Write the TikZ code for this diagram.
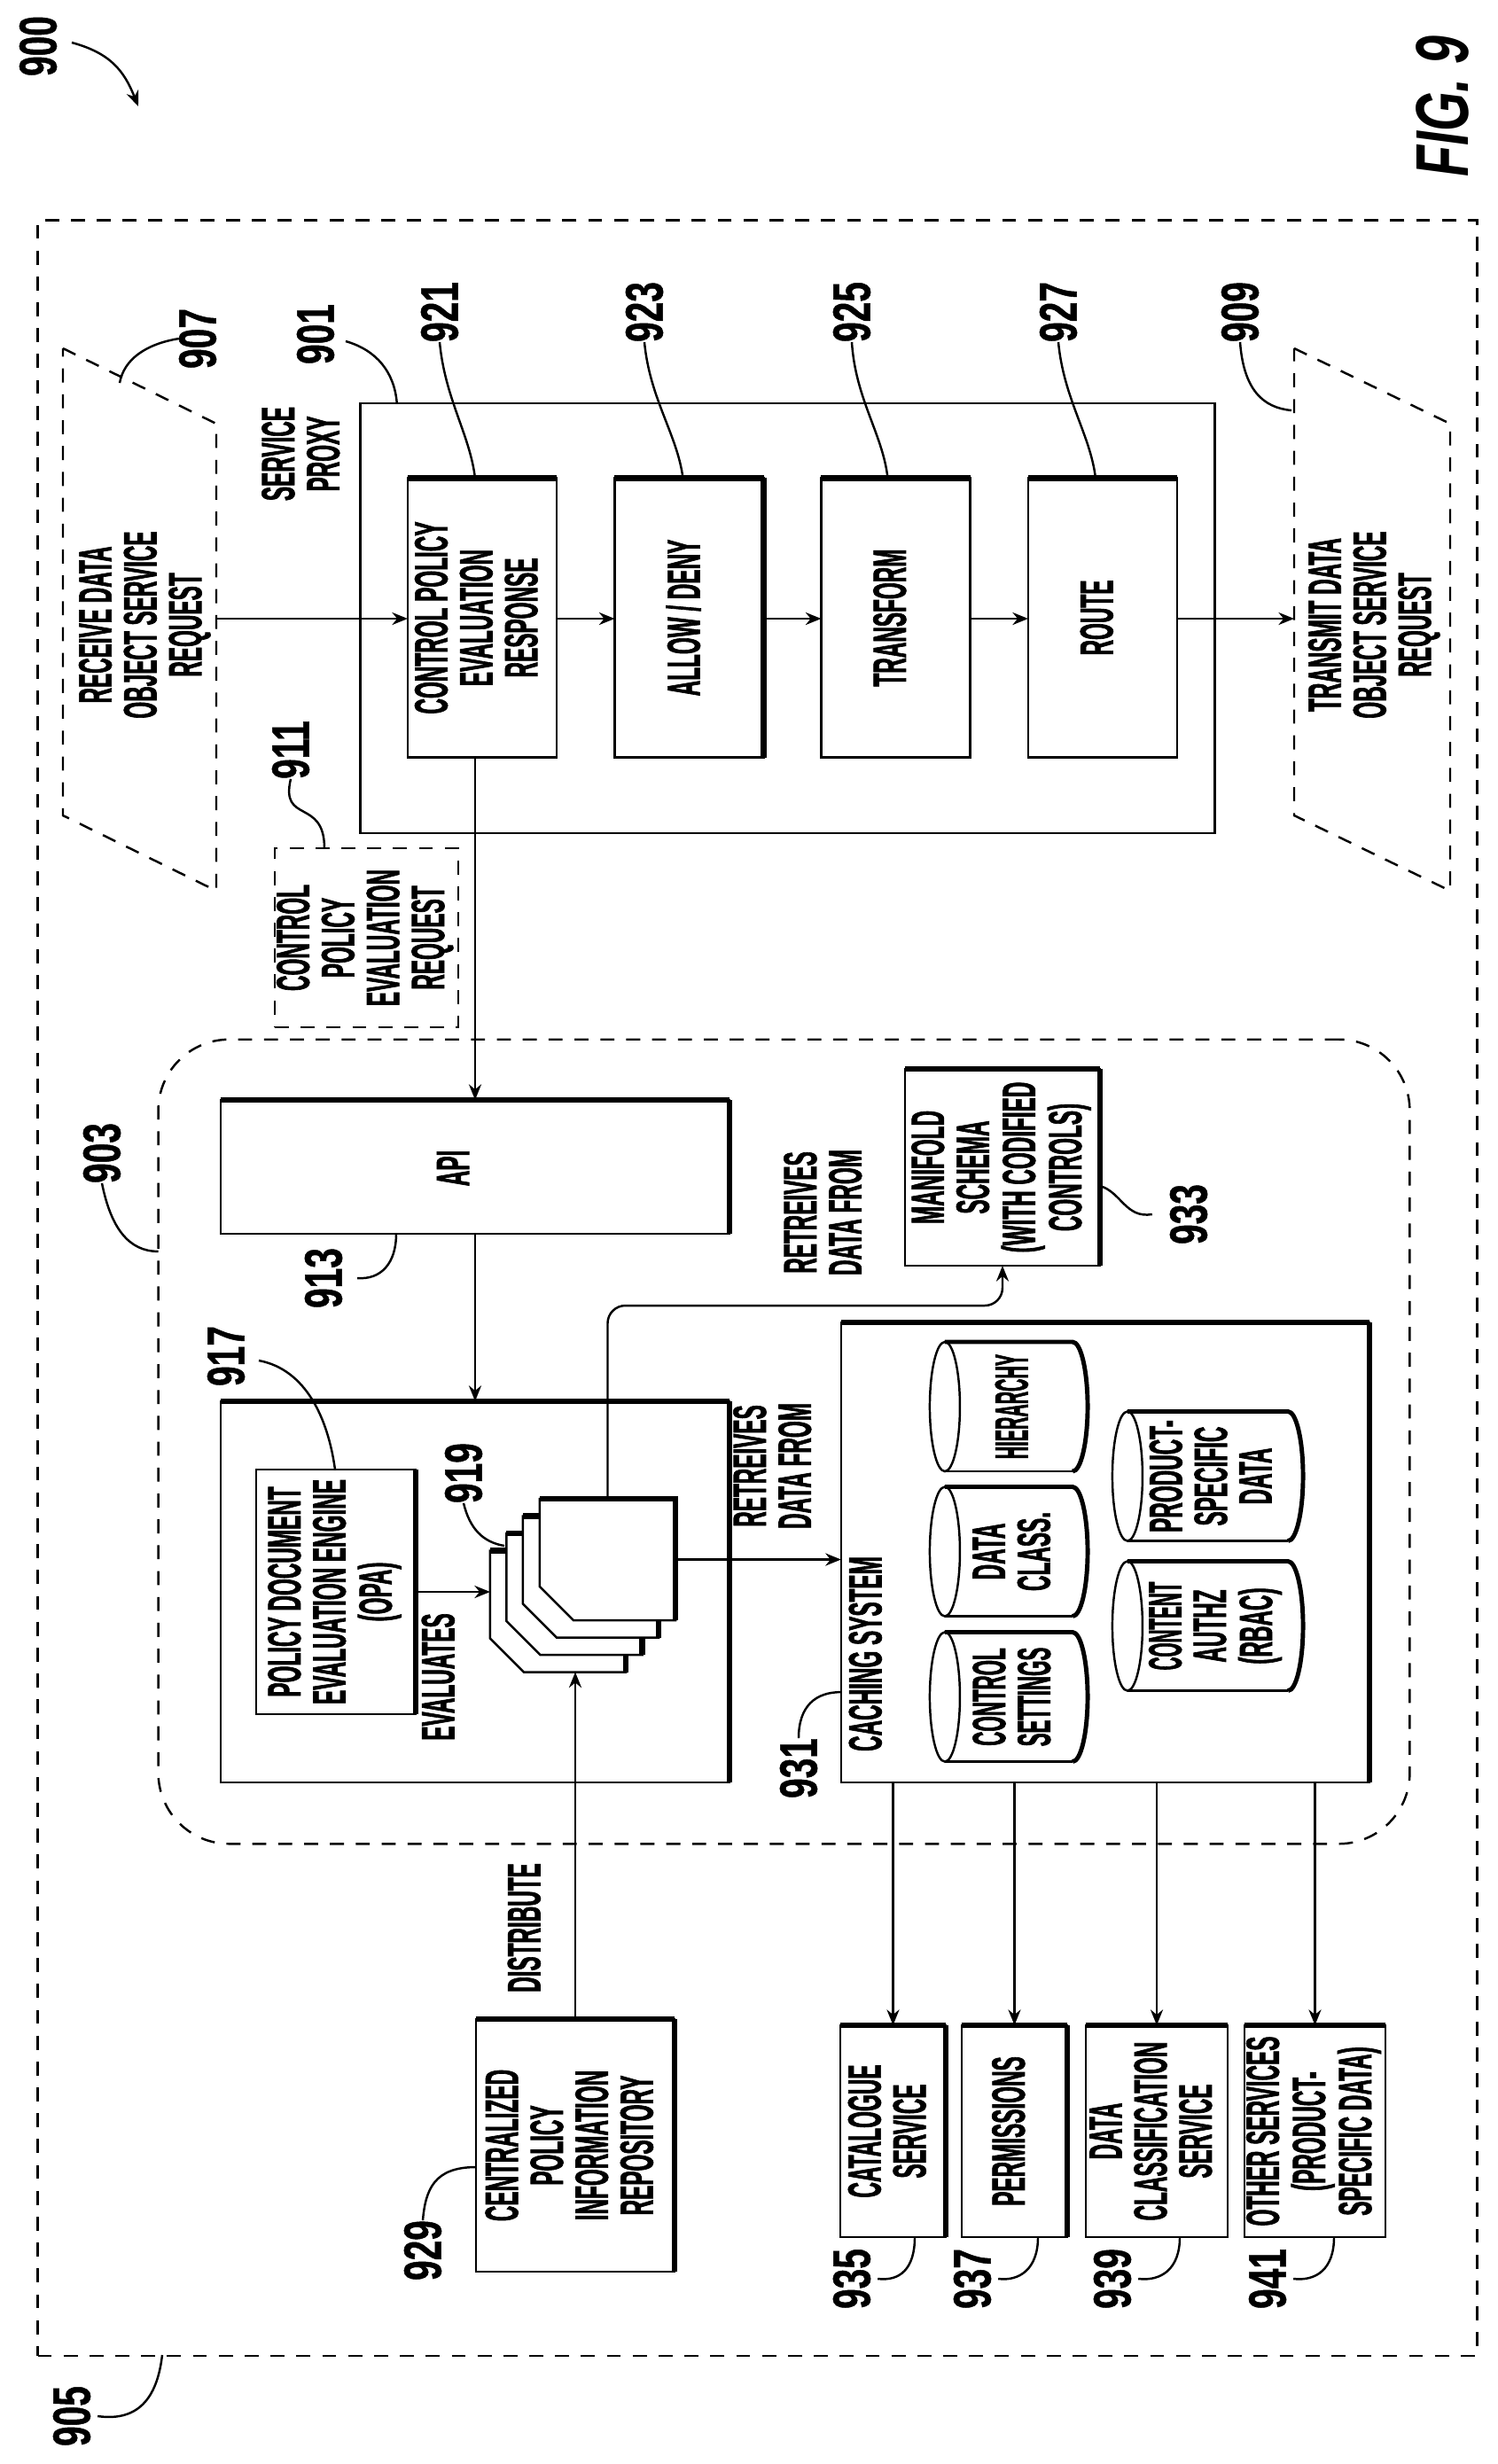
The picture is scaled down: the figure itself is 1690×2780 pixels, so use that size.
\documentclass[tikz,border=0pt]{standalone}
\usepackage{fontspec}
\setmainfont{Liberation Sans}[FakeStretch=0.46,BoldFeatures={FakeBold=1.2}]
\newfontfamily\numfont{Liberation Sans}[FakeStretch=0.68,BoldFeatures={FakeBold=0.8}]
\usetikzlibrary{arrows.meta}
\newcommand{\vt}[1]{\rotatebox{90}{\begin{tabular}{@{}c@{}}#1\end{tabular}}}
\newcommand{\dbt}[1]{\hspace{0.2cm}\vt{#1}}
\tikzstyle{box}=[draw,rectangle,inner sep=0pt,outer sep=0pt,line width=0.7pt,font=\fontsize{15}{13.2}\selectfont\bfseries]
\tikzstyle{pbox}=[box,minimum width=1.68cm,minimum height=3.15cm]
\tikzstyle{svc}=[box,minimum width=1.19cm,minimum height=2.39cm]
\tikzstyle{dashbox}=[box,dash pattern=on 4.5pt off 3.8pt]
\tikzstyle{lbl}=[inner sep=0pt,outer sep=0pt,font=\fontsize{15}{13.2}\selectfont\bfseries]
\tikzstyle{num}=[inner sep=0pt,outer sep=0pt,font=\fontsize{17}{17}\numfont\bfseries]
\tikzstyle{db}=[rectangle,inner sep=0pt,outer sep=0pt,minimum height=1.46cm,font=\fontsize{15}{13.2}\selectfont\bfseries]
\tikzstyle{sheet}=[rectangle,inner sep=0pt,outer sep=0pt,minimum width=1.53cm,minimum height=1.37cm]
\tikzstyle{heavy}=[line width=1.8pt]
\tikzstyle{lead}=[line width=0.7pt]
\begin{document}
\begin{tikzpicture}[x=0.01cm,y=-0.01cm,>={Stealth[length=5pt,width=4pt]},line width=0.7pt]
    \useasboundingbox (0,0) rectangle (1690,2780);

    % outer frames
    \node (n905box) at (854.5,1453) [dashbox,minimum width=16.23cm,minimum height=24.08cm] {};
    \node (n903box) at (884.5,1626.5) [dashbox,rounded corners=0.8cm,minimum width=14.11cm,minimum height=9.07cm] {};
    \node (proxy) at (888.5,697.5) [box,minimum width=9.63cm,minimum height=4.85cm] {};
    \node (proxytext) at (346,512) [lbl] {\vt{SERVICE\\PROXY}};

    % request shapes
    \draw [dash pattern=on 4.5pt off 3.8pt] (71,393) -- (244,478) -- (244,1005) -- (71,920) -- cycle;
    \draw [dash pattern=on 4.5pt off 3.8pt] (1460,393) -- (1636,478) -- (1636,1005) -- (1460,920) -- cycle;
    \coordinate (recvout) at (244,698);
    \coordinate (sendin) at (1460,698);
    \node (recv) at (165,705) [lbl] {\vt{RECEIVE DATA\\OBJECT SERVICE\\REQUEST}};
    \node (send) at (1552,705) [lbl] {\vt{TRANSMIT DATA\\OBJECT SERVICE\\REQUEST}};

    % proxy steps
    \node (box921) at (544,697) [pbox] {\vt{CONTROL POLICY\\EVALUATION\\RESPONSE}};
    \node (box923) at (777.5,697) [pbox] {\vt{ALLOW / DENY}};
    \node (box925) at (1010.5,697) [pbox] {\vt{TRANSFORM}};
    \node (box927) at (1244,697) [pbox] {\vt{ROUTE}};

    \node (box911) at (413.5,1058) [dashbox,minimum width=2.07cm,minimum height=2.02cm] {\vt{CONTROL\\POLICY\\EVALUATION\\REQUEST}};

    % policy service
    \node (api) at (536,1316.5) [box,minimum width=5.74cm,minimum height=1.51cm] {};
    \node (apitext) at (518,1318) [lbl] {\vt{API}};
    \node (engine) at (536,1796) [box,minimum width=5.74cm,minimum height=4.3cm] {};
    \node (pde) at (379,1796) [box,minimum width=1.8cm,minimum height=2.76cm] {\vt{POLICY DOCUMENT\\EVALUATION ENGINE\\(OPA)}};
    \node (evaltext) at (501,1892) [lbl] {\vt{EVALUATES}};

    % stack of documents, back to front
    \foreach \n/\x/\y in {doc3/629.5/1818,doc2/648/1798.5,doc1/666.5/1779,doc0/685.5/1759.5} {
        \node (\n) at (\x,\y) [sheet] {};
        \draw [fill=white] (\n.north west) -- (\n.north east) -- (\n.south east) -- ([xshift=0.38cm]\n.south west) -- ([yshift=0.38cm]\n.south west) -- cycle;
        \draw [heavy] (\n.north west) -- (\n.north east) -- (\n.south east);
    }

    \node (manifold) at (1131,1317) [box,minimum width=2.2cm,minimum height=2.22cm] {\vt{MANIFOLD\\SCHEMA\\(WITH CODIFIED\\CONTROLS)}};
    \node (fromtext1) at (935,1368) [lbl] {\vt{RETREIVES\\DATA FROM}};
    \node (fromtext2) at (878,1654) [lbl] {\vt{RETREIVES\\DATA FROM}};

    \node (cache) at (1247,1751.5) [box,minimum width=5.96cm,minimum height=5.19cm] {};
    \node (cachetext) at (983,1866) [lbl] {\vt{CACHING SYSTEM}};

    % stores
    \node (db1) at (1138,1587) [db,minimum width=1.78cm] {\dbt{\scalebox{0.82}[1]{HIERARCHY}}};
    \node (db2) at (1138,1750.5) [db,minimum width=1.78cm] {\dbt{DATA\\CLASS.}};
    \node (db3) at (1138,1914.5) [db,minimum width=1.78cm] {\dbt{\scalebox{0.92}[1]{CONTROL}\\\scalebox{0.92}[1]{SETTINGS}}};
    \node (db4) at (1362.5,1665.5) [db,minimum width=2.15cm] {\dbt{PRODUCT-\\SPECIFIC\\DATA}};
    \node (db5) at (1362.5,1834.5) [db,minimum width=2.15cm] {\dbt{\scalebox{0.85}[1]{CONTENT}\\AUTHZ\\(RBAC)}};
    \foreach \n in {db1,db2,db3,db4,db5} {
        \draw ([xshift=0.17cm]\n.west) ellipse [x radius=0.17cm,y radius=0.73cm];
        \draw ([xshift=0.17cm]\n.south west) -- ([xshift=-0.17cm]\n.south east);
        \draw [line width=1.4pt] ([xshift=0.17cm]\n.north west) -- ([xshift=-0.17cm]\n.north east) arc [start angle=90,end angle=-90,x radius=0.17cm,y radius=0.73cm];
    }

    % outside boxes
    \node (repo) at (649,2420.5) [box,minimum width=2.24cm,minimum height=2.85cm] {\vt{CENTRALIZED\\POLICY\\INFORMATION\\REPOSITORY}};
    \node (disttext) at (598,2175) [lbl] {\vt{DISTRIBUTE}};
    \node (svc935) at (1007.5,2404.5) [svc] {\vt{CATALOGUE\\SERVICE}};
    \node (svc937) at (1144.5,2404.5) [svc] {\vt{PERMISSIONS}};
    \node (svc939) at (1305,2404.5) [svc,minimum width=1.6cm] {\vt{DATA\\CLASSIFICATION\\SERVICE}};
    \node (svc941) at (1483.5,2404.5) [svc,minimum width=1.59cm] {\vt{OTHER SERVICES\\(PRODUCT-\\SPECIFIC DATA)}};

    % heavy edges
    \foreach \n in {box921,box923,box925,box927,api,engine,manifold,cache,repo,svc935,svc937,svc939,svc941}
        \draw [heavy] (\n.north west) -- (\n.north east);
    \foreach \n in {box923,api,engine,manifold,cache,repo,svc935,svc937,pde}
        \draw [heavy] (\n.north east) -- (\n.south east);

    % flow
    \draw [->] (recvout) -- (recvout -| box921.west);
    \draw [->] (box921.east |- recvout) -- (box923.west |- recvout);
    \draw [->] (box923.east |- recvout) -- (box925.west |- recvout);
    \draw [->] (box925.east |- recvout) -- (box927.west |- recvout);
    \draw [->] (box927.east |- recvout) -- (sendin);
    \draw [->] (box921.south -| api.north) -- (api.north);
    \draw [->] (api.south) -- (engine.north);
    \draw [->] (pde.east) -- (pde.east -| doc3.west);
    \draw [->] (repo.north) -- (repo.north |- doc3.south);
    \draw [->] (doc0.east) -- (doc0.east -| cache.west);
    \coordinate (bend) at (1131,1473);
    \draw [->,rounded corners=0.2cm] (doc0.north) |- (bend) -- (manifold.south);
    \draw [->] (cache.south -| svc935.north) -- (svc935.north);
    \draw [->] (cache.south -| svc937.north) -- (svc937.north);
    \draw [->] (cache.south -| svc939.north) -- (svc939.north);
    \draw [->] (cache.south -| svc941.north) -- (svc941.north);

    % reference numbers
    \node (n900) at (43,52) [num] {\rotatebox{90}{900}};
    \node (n905) at (81,2726) [num] {\rotatebox{90}{905}};
    \node (n907) at (223,382) [num] {\rotatebox{90}{907}};
    \node (n901) at (356,377) [num] {\rotatebox{90}{901}};
    \node (n921) at (496,352) [num] {\rotatebox{90}{921}};
    \node (n923) at (727,352) [num] {\rotatebox{90}{923}};
    \node (n925) at (961,352) [num] {\rotatebox{90}{925}};
    \node (n927) at (1194,352) [num] {\rotatebox{90}{927}};
    \node (n909) at (1399,352) [num] {\rotatebox{90}{909}};
    \node (n911) at (328,846) [num] {\rotatebox{90}{911}};
    \node (n903) at (115,1301) [num] {\rotatebox{90}{903}};
    \node (n913) at (365,1442) [num] {\rotatebox{90}{913}};
    \node (n917) at (255,1530) [num] {\rotatebox{90}{917}};
    \node (n919) at (523,1662) [num] {\rotatebox{90}{919}};
    \node (n933) at (1341,1370) [num] {\rotatebox{90}{933}};
    \node (n931) at (901,1995) [num] {\rotatebox{90}{931}};
    \node (n929) at (477,2539) [num] {\rotatebox{90}{929}};
    \node (n935) at (961,2571) [num] {\rotatebox{90}{935}};
    \node (n937) at (1097,2571) [num] {\rotatebox{90}{937}};
    \node (n939) at (1255,2571) [num] {\rotatebox{90}{939}};
    \node (n941) at (1430,2571) [num] {\rotatebox{90}{941}};
    \node (figlabel) at (1627,120) [num,font=\fontsize{24}{24}\numfont\bfseries\itshape] {\rotatebox{90}{FIG. 9}};

    % leader lines
    \draw [->] (81,48) .. controls (125,60) and (140,80) .. (156,120);
    \draw [lead] (n907.west) .. controls (165,388) and (140,405) .. (135,432);
    \draw [lead] (390,385) .. controls (425,395) and (445,420) .. ([xshift=0.41cm]proxy.north west);
    \draw [lead] (n921.south) .. controls (502,450) and (530,490) .. ([xshift=0.76cm]box921.north west);
    \draw [lead] (n923.south) .. controls (733,450) and (764,490) .. ([xshift=0.77cm]box923.north west);
    \draw [lead] (n925.south) .. controls (965,450) and (996,490) .. ([xshift=0.75cm]box925.north west);
    \draw [lead] (n927.south) .. controls (1200,450) and (1230,490) .. ([xshift=0.76cm]box927.north west);
    \draw [lead] (n909.south) .. controls (1403,440) and (1425,460) .. (1457,463);
    \draw [lead] (n911.south) .. controls (316,930) and (366,900) .. ([xshift=0.56cm]box911.north west);
    \draw [lead] (n903.south) .. controls (125,1385) and (145,1412) .. ([yshift=-2.39cm]n903box.north west);
    \draw [lead] ([xshift=1.98cm]api.south west) .. controls (447,1425) and (430,1444) .. ([xshift=0.17cm]n913.east);
    \draw [lead] (292,1535) .. controls (345,1545) and (370,1600) .. ([xshift=0.89cm]pde.north west);
    \draw [lead] (n919.south) .. controls (530,1725) and (545,1740) .. (569,1744);
    \draw [lead] ([yshift=-1.32cm]manifold.north east) .. controls (1265,1345) and (1270,1375) .. ([xshift=-0.2cm]n933.west);
    \draw [lead] (n931.north) .. controls (901,1925) and (920,1909) .. ([yshift=1.02cm]cache.south west);
    \draw [lead] (n929.north) .. controls (480,2470) and (490,2445) .. ([yshift=-1.67cm]repo.north west);
    \draw [lead] ([xshift=-0.35cm]svc935.south east) .. controls (1032,2560) and (1015,2574) .. ([xshift=0.08cm]n935.east);
    \draw [lead] ([xshift=-0.33cm]svc937.south east) .. controls (1171,2560) and (1150,2574) .. ([xshift=0.08cm]n937.east);
    \draw [lead] ([xshift=-0.54cm]svc939.south east) .. controls (1331,2560) and (1310,2574) .. ([xshift=0.08cm]n939.east);
    \draw [lead] ([xshift=-0.58cm]svc941.south east) .. controls (1505,2560) and (1485,2574) .. ([xshift=0.08cm]n941.east);
    \draw [lead] (183,2657) .. controls (178,2700) and (160,2733) .. ([xshift=0.08cm]n905.east);
\end{tikzpicture}
\end{document}
